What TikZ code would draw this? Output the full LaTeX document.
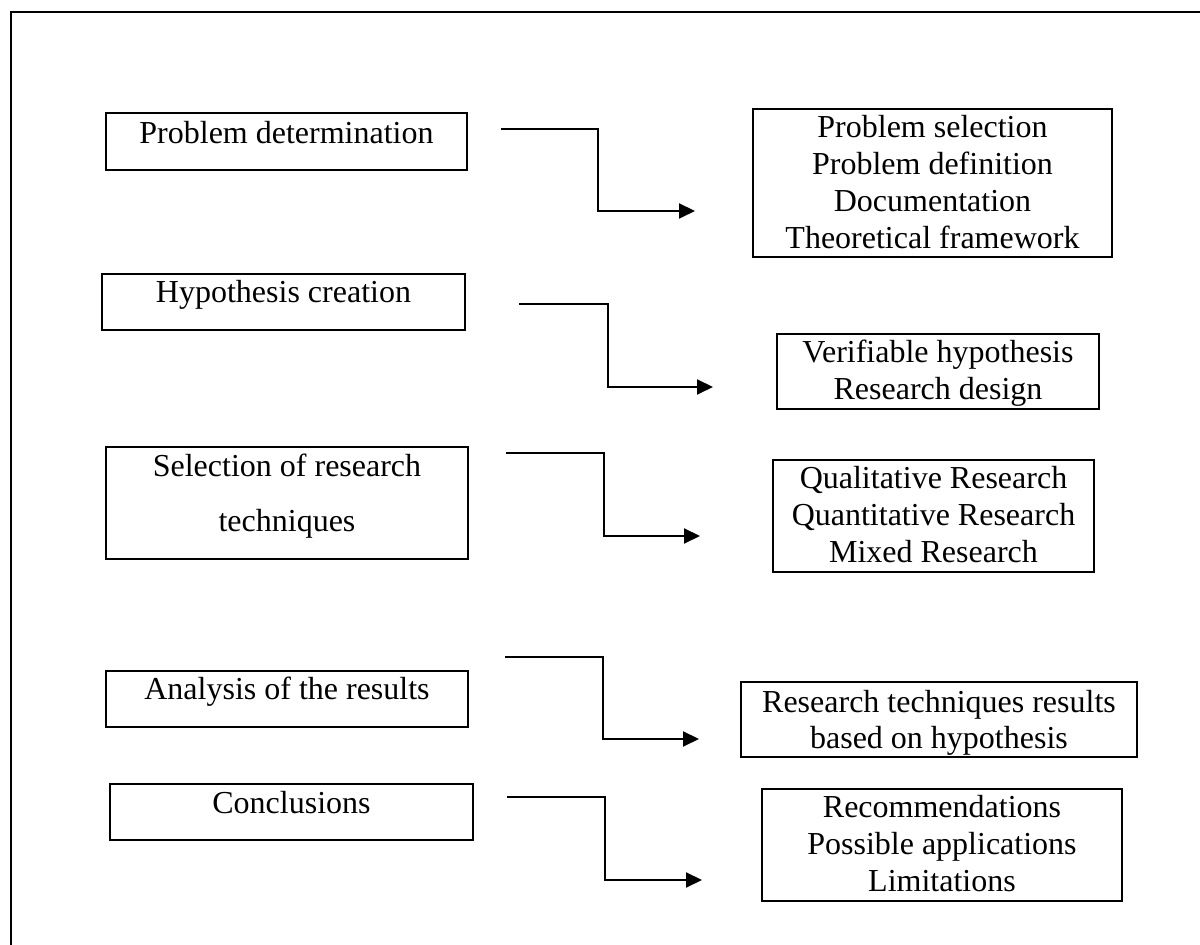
\documentclass[tikz,border=0pt]{standalone}
\usepackage{fontspec}
\setmainfont{Liberation Serif}
\usetikzlibrary{arrows.meta,fit}
\tikzset{
  box/.style={draw, line width=1.2pt, inner sep=0pt, rectangle},
  txt/.style={font=\fontsize{16}{18.5}\selectfont, inner sep=0pt, anchor=base},
  conn/.style={line width=1pt, -{Triangle[length=8pt,width=7.5pt]}},
  frameline/.style={line width=1.4pt}
}
\begin{document}
\begin{tikzpicture}[x=0.5pt,y=-0.5pt]
\useasboundingbox (0,0) rectangle (1200,945);
% outer frame (only top and left edges visible)
\coordinate (fb) at (11,945);
\coordinate (fc) at (11,12);
\coordinate (fr) at (1200,12);
\draw[frameline] (fb) -- (fc) -- (fr);

% left boxes
\node[box, fit={(106,113) (467,170)}] (b1) {};
\node[txt] (t1) at (286.5,144) {Problem determination};
\node[box, fit={(102,274) (465,330)}] (b2) {};
\node[txt] (t2) at (283.5,303) {Hypothesis creation};
\node[box, fit={(106,447) (468,559)}] (b3) {};
\node[txt] (t3a) at (287,477) {Selection of research};
\node[txt] (t3b) at (287,532) {techniques};
\node[box, fit={(106,671) (468,727)}] (b4) {};
\node[txt] (t4) at (287,700) {Analysis of the results};
\node[box, fit={(110,784) (473,840)}] (b5) {};
\node[txt] (t5) at (291.5,814) {Conclusions};

% right boxes
\node[box, fit={(753,109) (1112,257)}] (r1) {};
\node[txt] (r1a) at (932.5,138) {Problem selection};
\node[txt] (r1b) at (932.5,175) {Problem definition};
\node[txt] (r1c) at (932.5,212) {Documentation};
\node[txt] (r1d) at (932.5,249) {Theoretical framework};
\node[box, fit={(777,334) (1099,409)}] (r2) {};
\node[txt] (r2a) at (938,363) {Verifiable hypothesis};
\node[txt] (r2b) at (938,400) {Research design};
\node[box, fit={(773,460) (1094,572)}] (r3) {};
\node[txt] (r3a) at (933.5,489) {Qualitative Research};
\node[txt] (r3b) at (933.5,526) {Quantitative Research};
\node[txt] (r3c) at (933.5,563) {Mixed Research};
\node[box, fit={(741,682) (1137,757)}] (r4) {};
\node[txt] (r4a) at (939,712.5) {Research techniques results};
\node[txt] (r4b) at (939,749) {based on hypothesis};
\node[box, fit={(762,789) (1122,901)}] (r5) {};
\node[txt] (r5a) at (942,818) {Recommendations};
\node[txt] (r5b) at (942,855) {Possible applications};
\node[txt] (r5c) at (942,892) {Limitations};

% connectors (free-standing elbow arrows)
\coordinate (a1s) at (501,129); \coordinate (a1k) at (598,211); \coordinate (a1e) at (695,211);
\coordinate (a2s) at (519,304); \coordinate (a2k) at (608,387); \coordinate (a2e) at (713,387);
\coordinate (a3s) at (506,453); \coordinate (a3k) at (604,536); \coordinate (a3e) at (700,536);
\coordinate (a4s) at (505,657); \coordinate (a4k) at (603,739); \coordinate (a4e) at (699,739);
\coordinate (a5s) at (507,797); \coordinate (a5k) at (605,880); \coordinate (a5e) at (702,880);
\draw[conn] (a1s) -| (a1k) -- (a1e);
\draw[conn] (a2s) -| (a2k) -- (a2e);
\draw[conn] (a3s) -| (a3k) -- (a3e);
\draw[conn] (a4s) -| (a4k) -- (a4e);
\draw[conn] (a5s) -| (a5k) -- (a5e);
\end{tikzpicture}
\end{document}
